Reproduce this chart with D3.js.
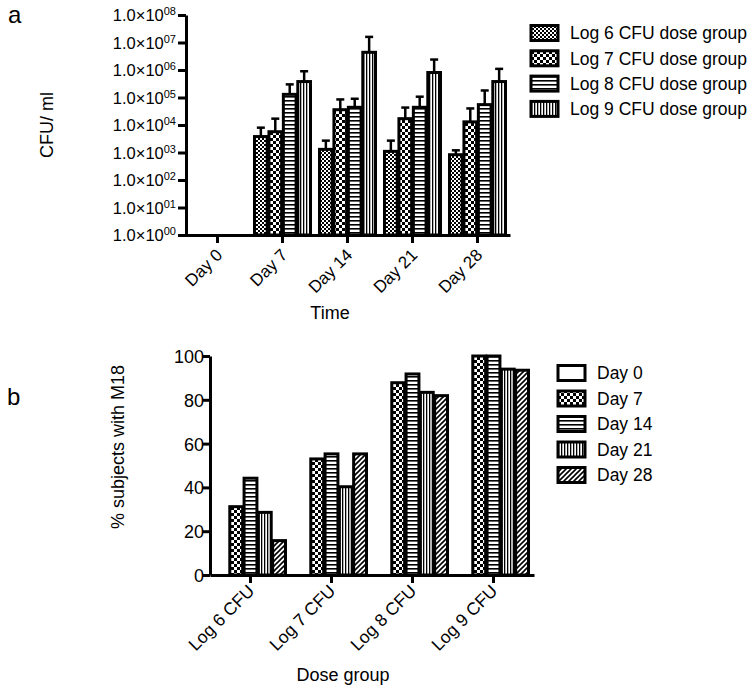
<!DOCTYPE html>
<html><head><meta charset="utf-8">
<script src="https://cdn.jsdelivr.net/npm/d3@7"></script>
<style>
body{margin:0;background:#fff}
svg text{font-family:"Liberation Sans",Arial,Helvetica,sans-serif;fill:#000}
</style>
</head><body>
<svg id="c" width="755" height="691"></svg>
<script>
// ---------- Data: panel a ----------
const days = ["Day 0", "Day 7", "Day 14", "Day 21", "Day 28"];
const doseSeries = ["Log 6 CFU dose group", "Log 7 CFU dose group", "Log 8 CFU dose group", "Log 9 CFU dose group"];
const log6Mean  = [null, 3800, 1300, 1100, 830];
const log6Upper = [null, 8000, 2700, 2700, 1200];
const log7Mean  = [null, 5700, 36000, 17000, 13000];
const log7Upper = [null, 17000, 85000, 43000, 40000];
const log8Mean  = [null, 130000, 44000, 44000, 55000];
const log8Upper = [null, 300000, 90000, 107000, 180000];
const log9Mean  = [null, 380000, 4400000, 810000, 380000];
const log9Upper = [null, 900000, 16000000, 2400000, 1100000];
const logTicks = [1e0, 1e1, 1e2, 1e3, 1e4, 1e5, 1e6, 1e7, 1e8];

// ---------- Data: panel b ----------
const doseGroups = ["Log 6 CFU", "Log 7 CFU", "Log 8 CFU", "Log 9 CFU"];
const daySeries = ["Day 0", "Day 7", "Day 14", "Day 21", "Day 28"];
const day0Pct  = [0, 0, 0, 0];
const day7Pct  = [31.2, 53, 87.8, 100];
const day14Pct = [44.2, 55.3, 91.8, 100];
const day21Pct = [28.6, 40.3, 83.4, 94];
const day28Pct = [15.7, 55.3, 81.9, 93.5];
const pctTicks = [0, 20, 40, 60, 80, 100];

const svg = d3.select("#c");
const defs = svg.append("defs");
function pat(id, w, h, draw) {
  const p = defs.append("pattern").attr("id", id).attr("patternUnits", "userSpaceOnUse")
    .attr("width", w).attr("height", h);
  p.append("rect").attr("width", w).attr("height", h).attr("fill", "#fff");
  draw(p);
}
pat("checkS", 4, 4, p => {
  p.append("rect").attr("width", 2).attr("height", 2).attr("fill", "#000");
  p.append("rect").attr("x", 2).attr("y", 2).attr("width", 2).attr("height", 2).attr("fill", "#000");
});
pat("checkL", 6, 6, p => {
  p.append("rect").attr("width", 3).attr("height", 3).attr("fill", "#000");
  p.append("rect").attr("x", 3).attr("y", 3).attr("width", 3).attr("height", 3).attr("fill", "#000");
});
pat("horiz", 4, 4, p => p.append("rect").attr("width", 4).attr("height", 1.6).attr("fill", "#000"));
pat("vert", 3, 3, p => p.append("rect").attr("width", 1.3).attr("height", 3).attr("fill", "#000"));
pat("diag", 5, 5, p => p.append("path").attr("d", "M-1,1 L1,-1 M0,5 L5,0 M4,6 L6,4")
  .attr("stroke", "#000").attr("stroke-width", 1.6));
pat("white", 4, 4, p => {});

function styleAxis(g) {
  g.selectAll("path.domain").attr("stroke", "#000").attr("stroke-width", 3);
  g.selectAll(".tick line").attr("stroke", "#000").attr("stroke-width", 3);
}

// ================= Panel a =================
const ya = d3.scaleLog().domain([1, 1e8]).range([235, 15]);
const x0a = d3.scaleBand().domain(days).range([185, 510]);
const x1a = d3.scaleBand().domain(doseSeries).range([0, 56]).paddingInner(0.12);
const seriesA = [
  {name: doseSeries[0], mean: log6Mean, upper: log6Upper, fill: "url(#checkS)"},
  {name: doseSeries[1], mean: log7Mean, upper: log7Upper, fill: "url(#checkL)"},
  {name: doseSeries[2], mean: log8Mean, upper: log8Upper, fill: "url(#horiz)"},
  {name: doseSeries[3], mean: log9Mean, upper: log9Upper, fill: "url(#vert)"}
];
const ga = svg.append("g");
seriesA.forEach(s => {
  days.forEach((d, i) => {
    const v = s.mean[i];
    if (v == null) return;
    const gx = x0a(d) + x0a.bandwidth() / 2 - 28 + x1a(s.name);
    const bw = x1a.bandwidth();
    const cx = gx + bw / 2;
    const up = s.upper[i];
    ga.append("line").attr("x1", cx).attr("x2", cx).attr("y1", ya(v)).attr("y2", ya(up))
      .attr("stroke", "#000").attr("stroke-width", 2.5);
    ga.append("line").attr("x1", cx - 4).attr("x2", cx + 4).attr("y1", ya(up)).attr("y2", ya(up))
      .attr("stroke", "#000").attr("stroke-width", 2.5);
    ga.append("rect").attr("x", gx).attr("y", ya(v)).attr("width", bw).attr("height", ya(1) - ya(v))
      .attr("fill", s.fill).attr("stroke", "#000").attr("stroke-width", 3);
  });
});
const gyA = svg.append("g").attr("transform", "translate(186,0)")
  .call(d3.axisLeft(ya).tickValues(logTicks).tickSize(8).tickSizeOuter(0).tickFormat(() => ""));
styleAxis(gyA);
gyA.selectAll(".tick text").each(function(d) {
  const t = d3.select(this).attr("font-size", "16.5px").attr("x", -10).attr("dy", "0.36em");
  t.append("tspan").text("1.0×10");
  t.append("tspan").attr("dy", "-0.55em").attr("font-size", "11px")
    .text(String(Math.round(Math.log10(d))).padStart(2, "0"));
});
const gxA = svg.append("g").attr("transform", "translate(0,235)")
  .call(d3.axisBottom(x0a).tickSize(8).tickSizeOuter(0));
styleAxis(gxA);
gxA.selectAll(".tick text").attr("font-size", "17px").attr("text-anchor", "end")
  .attr("x", 0).attr("y", 0).attr("dy", 0)
  .attr("transform", "translate(6,21) rotate(-45)");
svg.append("text").attr("x", 330).attr("y", 319).attr("text-anchor", "middle")
  .attr("font-size", "18px").text("Time");
svg.append("text").attr("transform", "translate(53,125) rotate(-90)").attr("text-anchor", "middle")
  .attr("font-size", "18px").text("CFU/ ml");
svg.append("text").attr("x", 8).attr("y", 23).attr("font-size", "24px").text("a");

const legA = svg.append("g");
seriesA.forEach((s, i) => {
  const cy = 33 + i * 25.3;
  legA.append("rect").attr("x", 531).attr("y", cy - 7.5).attr("width", 27).attr("height", 15)
    .attr("fill", s.fill).attr("stroke", "#000").attr("stroke-width", 3);
  legA.append("text").attr("x", 570).attr("y", cy).attr("dy", "0.36em").attr("font-size", "17.5px").text(s.name);
});

// ================= Panel b =================
const yb = d3.scaleLinear().domain([0, 100]).range([575, 356]);
const x0b = d3.scaleBand().domain(doseGroups).range([210, 534]);
const x1b = d3.scaleBand().domain(daySeries).range([0, 70]).paddingInner(0.1);
const seriesB = [
  {name: daySeries[0], vals: day0Pct, fill: "url(#white)"},
  {name: daySeries[1], vals: day7Pct, fill: "url(#checkL)"},
  {name: daySeries[2], vals: day14Pct, fill: "url(#horiz)"},
  {name: daySeries[3], vals: day21Pct, fill: "url(#vert)"},
  {name: daySeries[4], vals: day28Pct, fill: "url(#diag)"}
];
const gb = svg.append("g");
seriesB.forEach(s => {
  doseGroups.forEach((d, i) => {
    const v = s.vals[i];
    if (!v) return;
    const gx = x0b(d) + x0b.bandwidth() / 2 - 35 + x1b(s.name);
    gb.append("rect").attr("x", gx).attr("y", yb(v)).attr("width", x1b.bandwidth())
      .attr("height", yb(0) - yb(v)).attr("fill", s.fill).attr("stroke", "#000").attr("stroke-width", 3);
  });
});
const gyB = svg.append("g").attr("transform", "translate(210,0)")
  .call(d3.axisLeft(yb).tickValues(pctTicks).tickSize(7).tickSizeOuter(0));
styleAxis(gyB);
gyB.selectAll(".tick text").attr("font-size", "18px").attr("x", -6).attr("dy", "0.36em");
const gxB = svg.append("g").attr("transform", "translate(0,575)")
  .call(d3.axisBottom(x0b).tickSize(8).tickSizeOuter(0));
styleAxis(gxB);
gxB.selectAll(".tick text").attr("font-size", "17.5px").attr("text-anchor", "end")
  .attr("x", 0).attr("y", 0).attr("dy", 0)
  .attr("transform", "translate(5,17) rotate(-45)");
svg.append("text").attr("x", 343).attr("y", 681).attr("text-anchor", "middle")
  .attr("font-size", "18px").text("Dose group");
svg.append("text").attr("transform", "translate(124,447) rotate(-90)").attr("text-anchor", "middle")
  .attr("font-size", "18px").text("% subjects with M18");
svg.append("text").attr("x", 7).attr("y", 405).attr("font-size", "24px").text("b");

const legB = svg.append("g");
seriesB.forEach((s, i) => {
  const cy = 373 + i * 25.5;
  legB.append("rect").attr("x", 558).attr("y", cy - 7.5).attr("width", 27).attr("height", 15)
    .attr("fill", s.fill).attr("stroke", "#000").attr("stroke-width", 3);
  legB.append("text").attr("x", 597).attr("y", cy).attr("dy", "0.36em").attr("font-size", "17.5px").text(s.name);
});
</script>
</body></html>
